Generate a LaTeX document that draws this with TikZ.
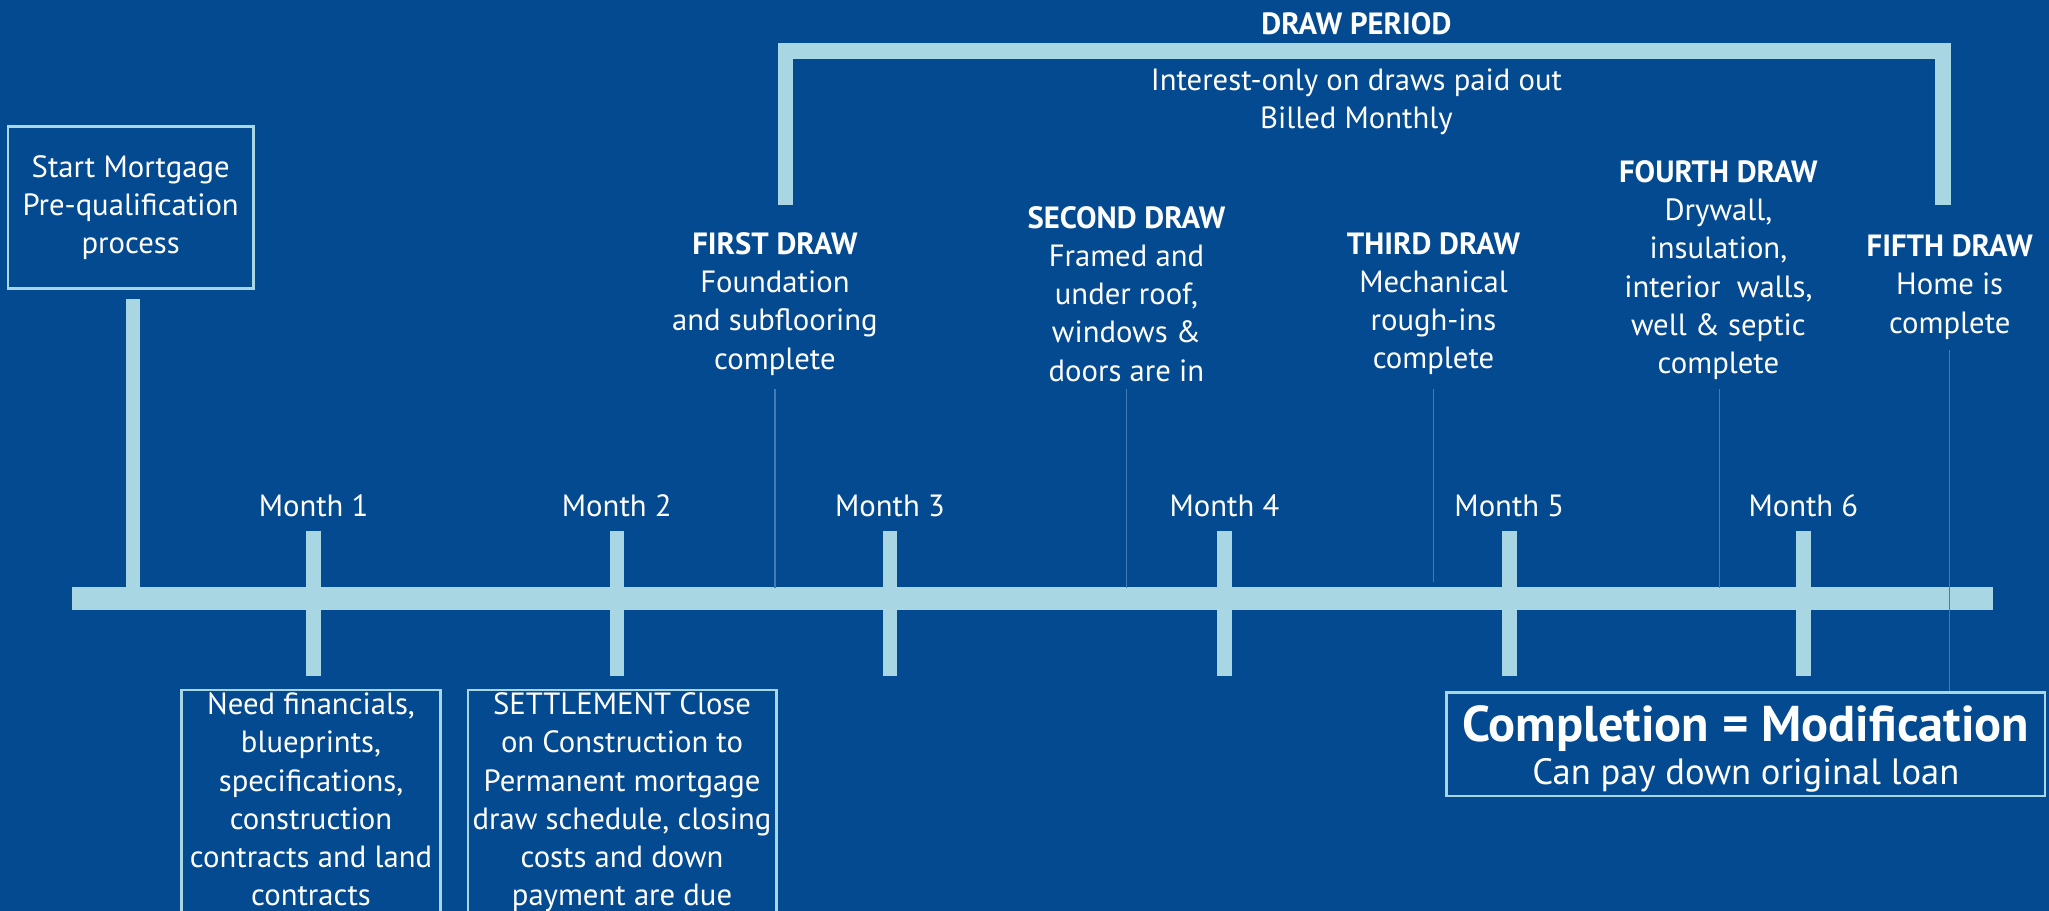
\documentclass[tikz,border=0pt]{standalone}
\usepackage{fontspec}
\setmainfont{PT Sans}
\usetikzlibrary{positioning}
\definecolor{bgblue}{RGB}{3,74,145}
\definecolor{barblue}{RGB}{168,214,226}
\definecolor{leadblue}{RGB}{72,122,178}

\begin{document}
\begin{tikzpicture}[x=1pt,y=-1pt]
\tikzset{
txt/.style={text=white,font=\fontsize{23.5}{29.3}\selectfont,align=center,inner sep=0pt},
bx/.style={txt,draw=barblue,line width=2pt,inner xsep=3pt,inner ysep=2pt},
bar/.style={draw=barblue,line width=#1},
lead/.style={draw=leadblue,line width=0.9pt}
}
\fill[bgblue] (0,0) rectangle (1568,697);
\useasboundingbox (0,0) rectangle (1568,697);

% time line
\coordinate (L) at (55,458);
\coordinate (R) at (1525,458);
\draw[bar=17pt] (L) -- (R);
\foreach \x/\n in {240/1,472/2,681/3,937/4,1155/5,1380/6}{
  \coordinate (t\n) at (\x,406);
  \coordinate (b\n) at (\x,517);
  \draw[bar=11pt] (t\n) -- (b\n);
  \node[txt,anchor=base] (m\n) at (\x,395) {Month \n};
}

% start
\node[bx,minimum width=188pt,minimum height=124pt] (start) at (100,159)
  {Start Mortgage\\Pre-qualification\\process};
\coordinate (s0) at (102,229);
\draw[bar=11pt] (s0) -- (s0 |- L);

% draw period
\coordinate (P1) at (601,157);
\coordinate (P2) at (1487,157);
\coordinate (DP) at (1044,39);
\draw[bar=12pt,line join=miter] (P1) |- (DP) -| (P2);
\node[txt,font=\fontsize{23.5}{29.3}\selectfont\bfseries] (per) at (1038,18) {DRAW PERIOD};
\node[txt] (pay) at (1038,78) {Interest-only on draws paid out\\Billed Monthly};

% draws
\node[txt,anchor=north] (d1) at (593,177.5) {\textbf{FIRST DRAW}\\Foundation\\and subflooring\\complete};
\node[txt,anchor=north] (d2) at (862,157.5) {\textbf{SECOND DRAW}\\Framed and\\under roof,\\windows \&\\doors are in};
\node[txt,anchor=north] (d3) at (1097,177.5) {\textbf{THIRD DRAW}\\Mechanical\\rough-ins\\complete};
\node[txt,anchor=north] (d4) at (1315,122.5) {\textbf{FOURTH DRAW}\\Drywall,\\insulation,\\interior\ \ walls,\\well \& septic\\complete};
\node[txt,anchor=north] (d5) at (1492,179.5) {\textbf{FIFTH DRAW}\\Home is\\complete};

\coordinate (l1) at (593,298);
\coordinate (l2) at (862,298);
\coordinate (l3) at (1097,298);
\coordinate (l4) at (1316,298);
\coordinate (l5) at (1492,268);
\draw[lead] (l1) -- (593,450);
\draw[lead] (l2) -- (862,450);
\draw[lead] (l3) -- (1097,445);
\draw[lead] (l4) -- (1316,450);

% boxes
\node[bx,anchor=north,minimum width=198pt,text depth=30pt] (need) at (238,527)
  {Need financials,\\blueprints,\\specifications,\\construction\\contracts and land\\contracts};
\node[bx,anchor=north,minimum width=236pt,text depth=30pt] (settle) at (476,527)
  {SETTLEMENT Close\\on Construction to\\Permanent mortgage\\draw schedule, closing\\costs and down\\payment are due};
\node[bx,minimum width=458pt,minimum height=79pt] (comp) at (1336,569.5) {};
\node[txt] (modtxt) at (1336,573) 
  {{\fontsize{38.5}{36}\selectfont\bfseries Completion = Modification}\\[4pt]
   {\fontsize{28}{32}\selectfont Can pay down original loan}};
\draw[lead] (l5) -- (l5 |- comp.north);
\end{tikzpicture}
\end{document}
